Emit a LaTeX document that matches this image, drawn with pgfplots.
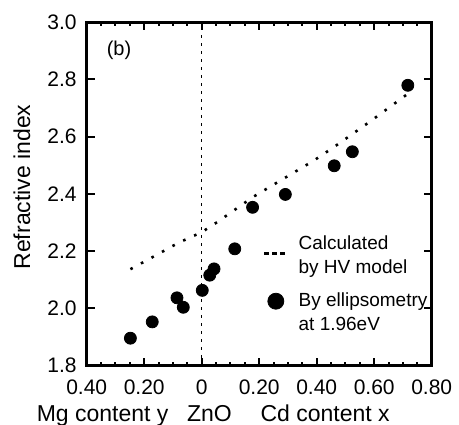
\documentclass[border=0pt]{standalone}
\usepackage{fontspec}
\setmainfont{Liberation Sans}
\usepackage{pgfplots}
\pgfplotsset{compat=1.18}

\begin{document}
\begin{tikzpicture}
\begin{axis}[
    scale only axis,
    width=172.5pt, height=171.85pt,
    xmin=-0.4, xmax=0.8, ymin=1.8, ymax=3.0,
    xtick={-0.4,-0.2,0,0.2,0.4,0.6,0.8},
    xticklabels={0.40,0.20,0,0.20,0.40,0.60,0.80},
    minor x tick num=3,
    ytick={1.8,2.0,2.2,2.4,2.6,2.8,3.0},
    yticklabel style={/pgf/number format/fixed, /pgf/number format/fixed zerofill,
        /pgf/number format/precision=1},
    /pgf/number format/assume math mode=true,
    tick align=inside,
    major tick length=4pt, minor tick length=2pt,
    every tick/.style={black, line width=1pt},
    axis line style={line width=1.5pt},
    xticklabel style={font=\fontsize{10.5}{12}\selectfont, yshift=-3.6pt},
    yticklabel style={font=\fontsize{10.5}{12}\selectfont, xshift=-1.5pt},
    clip=false,
    legend cell align=left,
    legend style={at={(axis description cs:0.51,0.39)}, anchor=north west,
        draw=none, fill=none, inner sep=0pt,
        font=\fontsize{9.5}{12}\selectfont,
        nodes={align=left}, row sep=4pt, column sep=3pt},
]
% dashed line marking ZnO
\addplot[black, line width=0.7pt, dash pattern=on 1.5pt off 2.5pt, forget plot]
    coordinates {(0,1.8) (0,3.0)};
% HV model
\addplot[black, line width=1.3pt, dash pattern=on 1.3pt off 4.7pt,
    legend image code/.code={\draw[black, line width=1.3pt, dash pattern=on 2.5pt off 1.5pt] (0pt,1.5pt) -- (11.5pt,1.5pt);}]
    coordinates {(-0.248,2.137) (-0.18,2.174) (-0.081,2.229) (0,2.266) (0.052,2.300)
                 (0.18,2.390) (0.388,2.515) (0.458,2.562) (0.589,2.655) (0.719,2.751)};
\addlegendentry{Calculated\\by HV model}
% ellipsometry
\addplot[only marks, mark=*, mark size=3pt, black,
    legend image code/.code={\fill[black] (5.75pt,6pt) circle (4pt);}]
    coordinates {(-0.248,1.896) (-0.172,1.953) (-0.086,2.037) (-0.064,2.004)
                 (0.002,2.063) (0.028,2.116) (0.043,2.138) (0.115,2.208)
                 (0.177,2.353) (0.291,2.398) (0.461,2.498) (0.524,2.547)
                 (0.717,2.779)};
\addlegendentry{By ellipsometry\\at 1.96eV}

\node[font=\fontsize{10}{12}\selectfont] at (axis description cs:0.0936,0.9185) {(b)};
\node[rotate=90, font=\fontsize{11.5}{13}\selectfont] at (axis description cs:-0.1875,0.52) {Refractive index};
\node[anchor=base, font=\fontsize{11.5}{13}\selectfont] at (axis description cs:0.0463,-0.1638) {Mg content y};
\node[anchor=base, font=\fontsize{11.5}{13}\selectfont] at (axis description cs:0.356,-0.1638) {ZnO};
\node[anchor=base, font=\fontsize{11.5}{13}\selectfont] at (axis description cs:0.691,-0.1638) {Cd content x};

\coordinate (sw) at (rel axis cs:0,0);
\coordinate (ne) at (rel axis cs:1,1);
\end{axis}
\pgfresetboundingbox
\path ([shift={(-43.35pt,-29.65pt)}]sw) rectangle ([shift={(13.65pt,11pt)}]ne);
\end{tikzpicture}
\end{document}
